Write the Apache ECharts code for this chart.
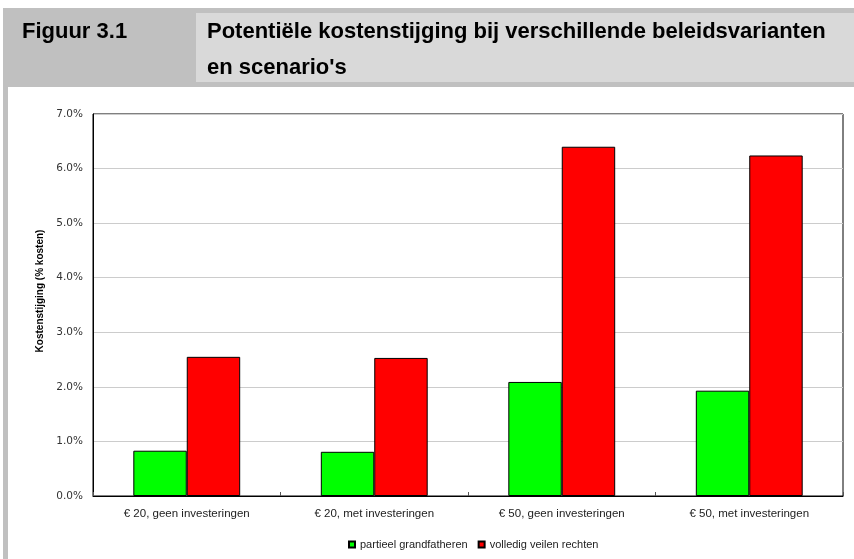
<!DOCTYPE html>
<html>
<head>
<meta charset="utf-8">
<script src="https://cdn.jsdelivr.net/npm/echarts@6/dist/echarts.min.js"></script>
<style>
html,body{margin:0;padding:0;background:#fff;}
#chart{width:854px;height:559px;}
</style>
</head>
<body>
<div id="chart"></div>
<script>
var categories = ['€ 20, geen investeringen', '€ 20, met investeringen', '€ 50, geen investeringen', '€ 50, met investeringen'];
var seriesNames = ['partieel grandfatheren', 'volledig veilen rechten'];
var partieelValues = [0.83, 0.81, 2.09, 1.93];
var volledigValues = [2.55, 2.53, 6.40, 6.24];
var figureLabel = 'Figuur 3.1';
var titleLines = ['Potentiële kostenstijging bij verschillende beleidsvarianten', "en scenario's"];
var yAxisName = 'Kostenstijging (% kosten)';

var chart = echarts.init(document.getElementById('chart'), null, {renderer: 'canvas'});
chart.setOption({
  animation: false,
  backgroundColor: '#ffffff',
  graphic: [
    {type: 'rect', shape: {x: 3, y: 8, width: 851, height: 79}, style: {fill: '#c0c0c0'}, silent: true, z: 0},
    {type: 'rect', shape: {x: 3, y: 87, width: 5, height: 472}, style: {fill: '#c0c0c0'}, silent: true, z: 0},
    {type: 'rect', shape: {x: 196, y: 13, width: 658, height: 69}, style: {fill: '#d9d9d9'}, silent: true, z: 1},
    {type: 'text', x: 22, y: 32, style: {text: figureLabel, fill: '#000', font: 'bold 22px "Liberation Sans", Arial, sans-serif', textVerticalAlign: 'middle'}, silent: true, z: 2},
    {type: 'text', x: 207, y: 32, style: {text: titleLines[0], fill: '#000', font: 'bold 22px "Liberation Sans", Arial, sans-serif', textVerticalAlign: 'middle'}, silent: true, z: 2},
    {type: 'text', x: 207, y: 68, style: {text: titleLines[1], fill: '#000', font: 'bold 22px "Liberation Sans", Arial, sans-serif', textVerticalAlign: 'middle'}, silent: true, z: 2}
  ],
  grid: {
    left: 93, right: 11, top: 114, bottom: 63,
    show: true, borderColor: '#000', borderWidth: 1, backgroundColor: '#fff'
  },
  legend: {
    data: seriesNames,
    left: 343, top: 534,
    itemWidth: 6, itemHeight: 6, itemGap: 10,
    icon: 'rect',
    textStyle: {fontFamily: '"Liberation Sans", Arial, sans-serif', fontSize: 11, color: '#222'}
  },
  xAxis: {
    type: 'category',
    data: categories,
    axisLine: {lineStyle: {color: '#000', width: 1}},
    axisTick: {show: true, inside: true, length: 4, lineStyle: {color: '#555'}},
    axisLabel: {fontFamily: '"Liberation Sans", Arial, sans-serif', fontSize: 11.5, color: '#222', margin: 12, interval: 0},
    splitLine: {show: false}
  },
  yAxis: {
    type: 'value',
    min: 0, max: 7, interval: 1,
    name: yAxisName,
    nameLocation: 'middle',
    nameGap: 42,
    nameTextStyle: {fontFamily: '"Liberation Sans", Arial, sans-serif', fontSize: 10, fontWeight: 'bold', color: '#000', padding: [0, 0, 0, 28]},
    axisLine: {show: true, lineStyle: {color: '#000', width: 1}},
    axisTick: {show: false},
    axisLabel: {fontFamily: '"DejaVu Sans", Verdana, sans-serif', fontSize: 10.5, color: '#333', margin: 10,
      formatter: function (v) { return v.toFixed(1) + '%'; }},
    splitLine: {show: true, lineStyle: {color: '#cccccc', width: 1}}
  },
  series: [
    {
      name: seriesNames[0], type: 'bar', data: partieelValues,
      barGap: '0%', barCategoryGap: '43%',
      itemStyle: {color: '#00ff00', borderColor: '#000', borderWidth: 1}
    },
    {
      name: seriesNames[1], type: 'bar', data: volledigValues,
      barGap: '0%', barCategoryGap: '43%',
      itemStyle: {color: '#ff0000', borderColor: '#000', borderWidth: 1}
    }
  ]
});
</script>
</body>
</html>
